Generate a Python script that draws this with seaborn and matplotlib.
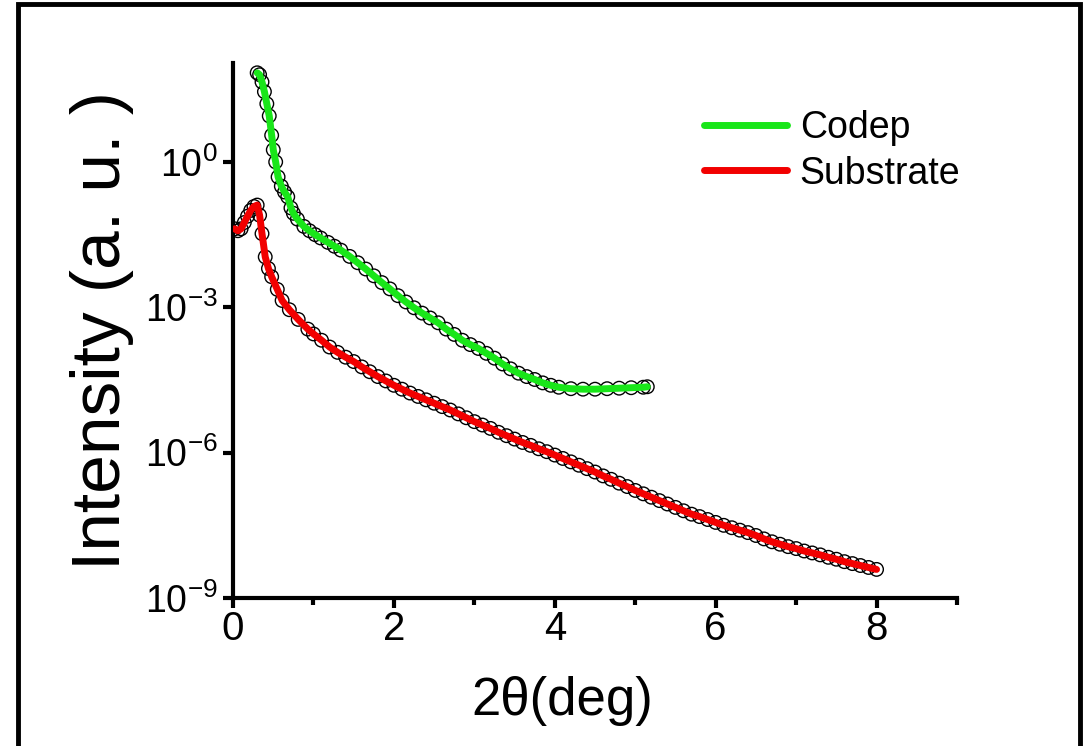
import numpy as np
import pandas as pd
import matplotlib
matplotlib.use("Agg")
import matplotlib.pyplot as plt
import seaborn as sns
from matplotlib.patches import Rectangle
from matplotlib.ticker import FixedLocator, MultipleLocator, NullLocator

# X-ray reflectivity scans: 2-theta (deg) and log10 of the measured intensity
codep_2theta = [0.30, 0.33, 0.36, 0.39, 0.42, 0.45, 0.48, 0.50, 0.53, 0.56,
                0.60, 0.64, 0.68, 0.72, 0.75, 0.80, 0.88, 0.95, 1.02, 1.09,
                1.18, 1.26, 1.34, 1.45, 1.55, 1.65, 1.75, 1.85, 1.95, 2.05,
                2.15, 2.25, 2.35, 2.45, 2.55, 2.65, 2.75, 2.85, 2.95, 3.05,
                3.15, 3.25, 3.35, 3.45, 3.55, 3.65, 3.75, 3.85, 3.95, 4.05,
                4.20, 4.35, 4.50, 4.65, 4.80, 4.95, 5.10, 5.15]
codep_log_int = [1.84, 1.80, 1.65, 1.45, 1.20, 0.95, 0.55, 0.25, 0.00, -0.31,
                 -0.50, -0.62, -0.72, -0.95, -1.06, -1.18, -1.33, -1.42, -1.50, -1.57,
                 -1.66, -1.74, -1.82, -1.95, -2.08, -2.21, -2.35, -2.49, -2.62, -2.76,
                 -2.89, -3.01, -3.12, -3.22, -3.32, -3.45, -3.56, -3.68, -3.77, -3.85,
                 -3.95, -4.05, -4.17, -4.27, -4.36, -4.43, -4.49, -4.56, -4.61, -4.65,
                 -4.68, -4.69, -4.69, -4.68, -4.67, -4.66, -4.65, -4.64]

substrate_2theta = [0.02, 0.06, 0.10, 0.14, 0.18, 0.22, 0.26, 0.30, 0.33, 0.36,
                    0.40, 0.44, 0.48, 0.55, 0.61, 0.70, 0.81, 0.93,
                    1.0, 1.1, 1.2, 1.3, 1.4, 1.5, 1.6, 1.7, 1.8, 1.9,
                    2.0, 2.1, 2.2, 2.3, 2.4, 2.5, 2.6, 2.7, 2.8, 2.9,
                    3.0, 3.1, 3.2, 3.3, 3.4, 3.5, 3.6, 3.7, 3.8, 3.9,
                    4.0, 4.1, 4.2, 4.3, 4.4, 4.5, 4.6, 4.7, 4.8, 4.9,
                    5.0, 5.1, 5.2, 5.3, 5.4, 5.5, 5.6, 5.7, 5.8, 5.9,
                    6.0, 6.1, 6.2, 6.3, 6.4, 6.5, 6.6, 6.7, 6.8, 6.9,
                    7.0, 7.1, 7.2, 7.3, 7.4, 7.5, 7.6, 7.7, 7.8, 7.9, 8.0]
substrate_log_int = [-1.38, -1.42, -1.38, -1.25, -1.12, -1.00, -0.92, -0.89, -1.10, -1.48,
                     -1.96, -2.20, -2.37, -2.63, -2.86, -3.05, -3.25, -3.45,
                     -3.55, -3.68, -3.82, -3.93, -4.03, -4.12, -4.23, -4.33, -4.43, -4.52,
                     -4.61, -4.69, -4.77, -4.84, -4.91, -4.98, -5.05, -5.12, -5.20, -5.28,
                     -5.36, -5.43, -5.50, -5.58, -5.65, -5.72, -5.79, -5.85, -5.92, -5.98,
                     -6.05, -6.12, -6.19, -6.26, -6.33, -6.40, -6.48, -6.55, -6.63, -6.70,
                     -6.78, -6.85, -6.92, -6.99, -7.06, -7.13, -7.20, -7.27, -7.32, -7.38,
                     -7.44, -7.50, -7.55, -7.60, -7.65, -7.71, -7.78, -7.84, -7.89, -7.94,
                     -7.98, -8.03, -8.07, -8.11, -8.16, -8.20, -8.25, -8.29, -8.33, -8.37, -8.41]

series_names = ["Codep", "Substrate"]
series_colors = {"Codep": "#19e619", "Substrate": "#f20000"}

y_tick_exponents = [0, -3, -6, -9]
x_major_ticks = [0, 2, 4, 6, 8]

codep = pd.DataFrame({"two_theta": codep_2theta,
                      "intensity": np.power(10.0, codep_log_int),
                      "sample": "Codep"})
substrate = pd.DataFrame({"two_theta": substrate_2theta,
                          "intensity": np.power(10.0, substrate_log_int),
                          "sample": "Substrate"})
scans = pd.concat([codep, substrate], ignore_index=True)

sns.set_theme(style="ticks")
plt.rcParams["font.family"] = ["Liberation Sans", "DejaVu Sans"]
plt.rcParams["mathtext.fontset"] = "custom"
plt.rcParams["mathtext.rm"] = "Liberation Sans"
for key in ("text.color", "axes.labelcolor", "xtick.color", "ytick.color",
            "xtick.labelcolor", "ytick.labelcolor"):
    plt.rcParams[key] = "black"

fig = plt.figure(figsize=(10.88, 7.46), dpi=100)
fig.patch.set_facecolor("white")
ax = fig.add_axes([0.2142, 0.1984, 0.6654, 0.7171])
ax.set_facecolor("white")

# measured points: open black circles
sns.scatterplot(data=scans, x="two_theta", y="intensity", ax=ax,
                marker="o", s=95, facecolor="none", edgecolor="black",
                linewidth=1.0, legend=False, zorder=2)

# fitted curves on top
sns.lineplot(data=scans, x="two_theta", y="intensity", hue="sample",
             hue_order=series_names, palette=series_colors, ax=ax,
             linewidth=5, estimator=None, sort=True, zorder=3)

ax.set_yscale("log")
ax.set_xlim(0, 9)
ax.set_ylim(1e-9, 110)

ax.xaxis.set_major_locator(FixedLocator(x_major_ticks))
ax.xaxis.set_minor_locator(MultipleLocator(1))
ax.set_xticklabels([str(v) for v in x_major_ticks])

y_ticks = [10.0 ** e for e in y_tick_exponents]
ax.yaxis.set_major_locator(FixedLocator(y_ticks))
ax.yaxis.set_minor_locator(NullLocator())
ax.set_yticklabels([r"$\mathregular{10^{%d}}$" % e for e in y_tick_exponents])

for side in ("top", "right"):
    ax.spines[side].set_visible(False)
for side in ("left", "bottom"):
    ax.spines[side].set_linewidth(3)
    ax.spines[side].set_color("black")

ax.tick_params(axis="both", which="major", direction="out", length=7, width=3,
               color="black", labelcolor="black")
ax.tick_params(axis="x", which="minor", direction="out", length=5, width=3, color="black")
ax.tick_params(axis="x", which="major", labelsize=29, pad=2)
ax.tick_params(axis="y", which="major", labelsize=27, pad=4)

ax.set_xlabel("2\u03b8(deg)", fontsize=38)
ax.xaxis.set_label_coords(0.455, -0.145)
ax.set_ylabel("Intensity (a. u. )", fontsize=50)
ax.yaxis.set_label_coords(-0.137, 0.5)

handles, labels = ax.get_legend_handles_labels()
leg = ax.legend(handles, labels, loc="upper left", bbox_to_anchor=(0.63, 0.94),
                frameon=False, fontsize=27, handlelength=2.2, handletextpad=0.35,
                labelspacing=0.25, borderaxespad=0)
for line in leg.get_lines():
    line.set_linewidth(5)

# frame around the whole figure
fig.patches.append(Rectangle((18 / 1088, -0.02), (1080 - 18) / 1088, 1.02 - 4 / 746,
                             transform=fig.transFigure, fill=False,
                             edgecolor="black", linewidth=3.5, zorder=10))

fig.savefig("out.png", dpi=100, facecolor="white")
